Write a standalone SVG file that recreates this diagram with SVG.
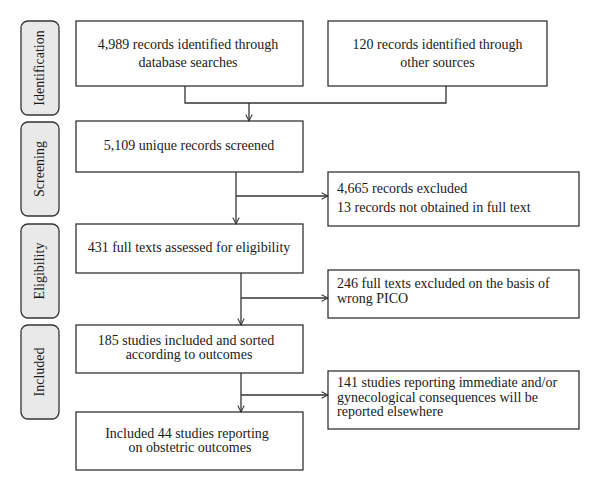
<svg xmlns="http://www.w3.org/2000/svg" width="600" height="491" viewBox="0 0 600 491">
<defs>
<style>
.box{fill:#fff;stroke:#333;stroke-width:1.3}
.side{fill:#e9e9e9;stroke:#333;stroke-width:1.3}
.t{font-family:"Liberation Serif","Times New Roman",serif;font-size:14px;fill:#1a1a1a}
.c{text-anchor:middle}
.ln{fill:none;stroke:#333;stroke-width:1.3}
</style>
<marker id="ah" viewBox="0 0 10 10" refX="9" refY="5" markerWidth="8" markerHeight="8" markerUnits="userSpaceOnUse" orient="auto">
<path d="M1,1 L9,5 L1,9" fill="none" stroke="#333" stroke-width="1.3"/>
</marker>
</defs>
<rect width="600" height="491" fill="#fff"/>
<g id="side-identification"><rect class="side" x="21" y="21" width="38" height="94" rx="7"/><text class="t c" transform="translate(44,68) rotate(-90)">Identification</text></g>
<g id="side-screening"><rect class="side" x="21" y="122" width="38" height="94" rx="7"/><text class="t c" transform="translate(44,169) rotate(-90)">Screening</text></g>
<g id="side-eligibility"><rect class="side" x="21" y="224" width="38" height="94" rx="7"/><text class="t c" transform="translate(44,271) rotate(-90)">Eligibility</text></g>
<g id="side-included"><rect class="side" x="21" y="325" width="38" height="94" rx="7"/><text class="t c" transform="translate(44,372) rotate(-90)">Included</text></g>

<g id="n-db"><rect class="box" x="76" y="21" width="227" height="65"/><text class="t c" x="188" y="49">4,989 records identified through</text><text class="t c" x="188" y="67">database searches</text></g>
<g id="n-other"><rect class="box" x="328" y="21" width="219" height="65"/><text class="t c" x="437.5" y="49">120 records identified through</text><text class="t c" x="437.5" y="67">other sources</text></g>
<g id="n-screened"><rect class="box" x="76" y="121" width="227" height="51"/><text class="t c" x="189" y="150">5,109 unique records screened</text></g>
<g id="n-excl1"><rect class="box" x="328" y="172" width="251" height="54"/><text class="t" x="337" y="193">4,665 records excluded</text><text class="t" x="337" y="212">13 records not obtained in full text</text></g>
<g id="n-fulltext"><rect class="box" x="76" y="224" width="227" height="49"/><text class="t c" x="189" y="252">431 full texts assessed for eligibility</text></g>
<g id="n-excl2"><rect class="box" x="328" y="270" width="251" height="48"/><text class="t" x="337" y="288">246 full texts excluded on the basis of</text><text class="t" x="337" y="303">wrong PICO</text></g>
<g id="n-included"><rect class="box" x="76" y="325" width="227" height="48"/><text class="t c" x="186" y="345">185 studies included and sorted</text><text class="t c" x="189" y="359">according to outcomes</text></g>
<g id="n-excl3"><rect class="box" x="328" y="371" width="251" height="58"/><text class="t" x="337" y="387">141 studies reporting immediate and/or</text><text class="t" x="337" y="402">gynecological consequences will be</text><text class="t" x="337" y="416">reported elsewhere</text></g>
<g id="n-final"><rect class="box" x="76" y="412" width="227" height="58"/><text class="t c" x="187" y="438">Included 44 studies reporting</text><text class="t c" x="190" y="452">on obstetric outcomes</text></g>

<g id="connectors">
<path class="ln" d="M185,86 V103 H446 V86"/>
<path class="ln" d="M249,103 V121" marker-end="url(#ah)"/>
<path class="ln" d="M236,172 V224" marker-end="url(#ah)"/>
<path class="ln" d="M236,196 H328" marker-end="url(#ah)"/>
<path class="ln" d="M241,273 V325" marker-end="url(#ah)"/>
<path class="ln" d="M241,298 H328" marker-end="url(#ah)"/>
<path class="ln" d="M241,373 V412" marker-end="url(#ah)"/>
<path class="ln" d="M241,395 H328" marker-end="url(#ah)"/>
</g>
</svg>
